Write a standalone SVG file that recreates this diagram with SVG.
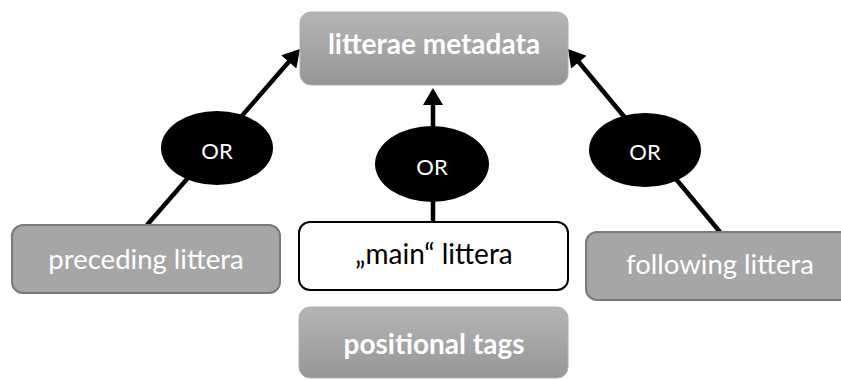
<svg xmlns="http://www.w3.org/2000/svg" width="841" height="380" viewBox="0 0 841 380">
<style>
.lbl{font-family:Lato,"Open Sans","Liberation Sans",sans-serif;text-anchor:middle}
.bold{font-weight:bold;font-size:28px;fill:#ffffff}
.norm{font-size:27.5px;fill:#ffffff}
.dark{font-size:28px;fill:#000000}
.or{font-size:22px;fill:#ffffff}
.conn{stroke:#000;stroke-width:4.5;fill:none;marker-end:url(#ah)}
.gbox{fill:url(#gg);stroke:#b0b0b0;stroke-width:1}
.fbox{fill:#a6a6a6;stroke:#7a7a7a;stroke-width:2}
</style>
<defs>
<linearGradient id="gg" x1="0" y1="0" x2="0" y2="1">
<stop offset="0" stop-color="#b5b5b5"/>
<stop offset="1" stop-color="#969696"/>
</linearGradient>
<marker id="ah" markerUnits="userSpaceOnUse" markerWidth="20" markerHeight="20" refX="3" refY="10" orient="auto" viewBox="0 0 18 20">
<path d="M0,0 L17,10 L0,20 z" fill="#000"/>
</marker>
</defs>
<g id="connectors">
<line class="conn" x1="147" y1="225" x2="290.8" y2="59.6"/>
<line class="conn" x1="433" y1="222" x2="433" y2="102"/>
<line class="conn" x1="720" y1="232" x2="576.9" y2="59.8"/>
</g>
<g id="litterae-metadata">
<rect class="gbox" x="300" y="12" width="268" height="73" rx="11"/>
<text class="lbl bold" x="434" y="54">litterae metadata</text>
</g>
<g id="preceding-littera">
<rect class="fbox" x="12" y="225" width="268" height="68" rx="11"/>
<text class="lbl norm" x="146" y="269">preceding littera</text>
</g>
<g id="main-littera">
<rect x="299" y="222" width="269" height="68" rx="11" fill="#fff" stroke="#000" stroke-width="2"/>
<text class="lbl dark" x="434" y="264">„main“ littera</text>
</g>
<g id="following-littera">
<rect class="fbox" x="586" y="232" width="268" height="68" rx="11"/>
<text class="lbl norm" x="720" y="274">following littera</text>
</g>
<g id="positional-tags">
<rect class="gbox" x="299" y="307" width="269" height="71" rx="11"/>
<text class="lbl bold" x="434" y="354">positional tags</text>
</g>
<g id="or-left">
<ellipse cx="217" cy="148" rx="56" ry="37" fill="#000"/>
<text class="lbl or" x="217" y="159">OR</text>
</g>
<g id="or-middle">
<ellipse cx="432" cy="164" rx="57" ry="38" fill="#000"/>
<text class="lbl or" x="432" y="175">OR</text>
</g>
<g id="or-right">
<ellipse cx="645" cy="150" rx="56" ry="37" fill="#000"/>
<text class="lbl or" x="645" y="160">OR</text>
</g>
</svg>
